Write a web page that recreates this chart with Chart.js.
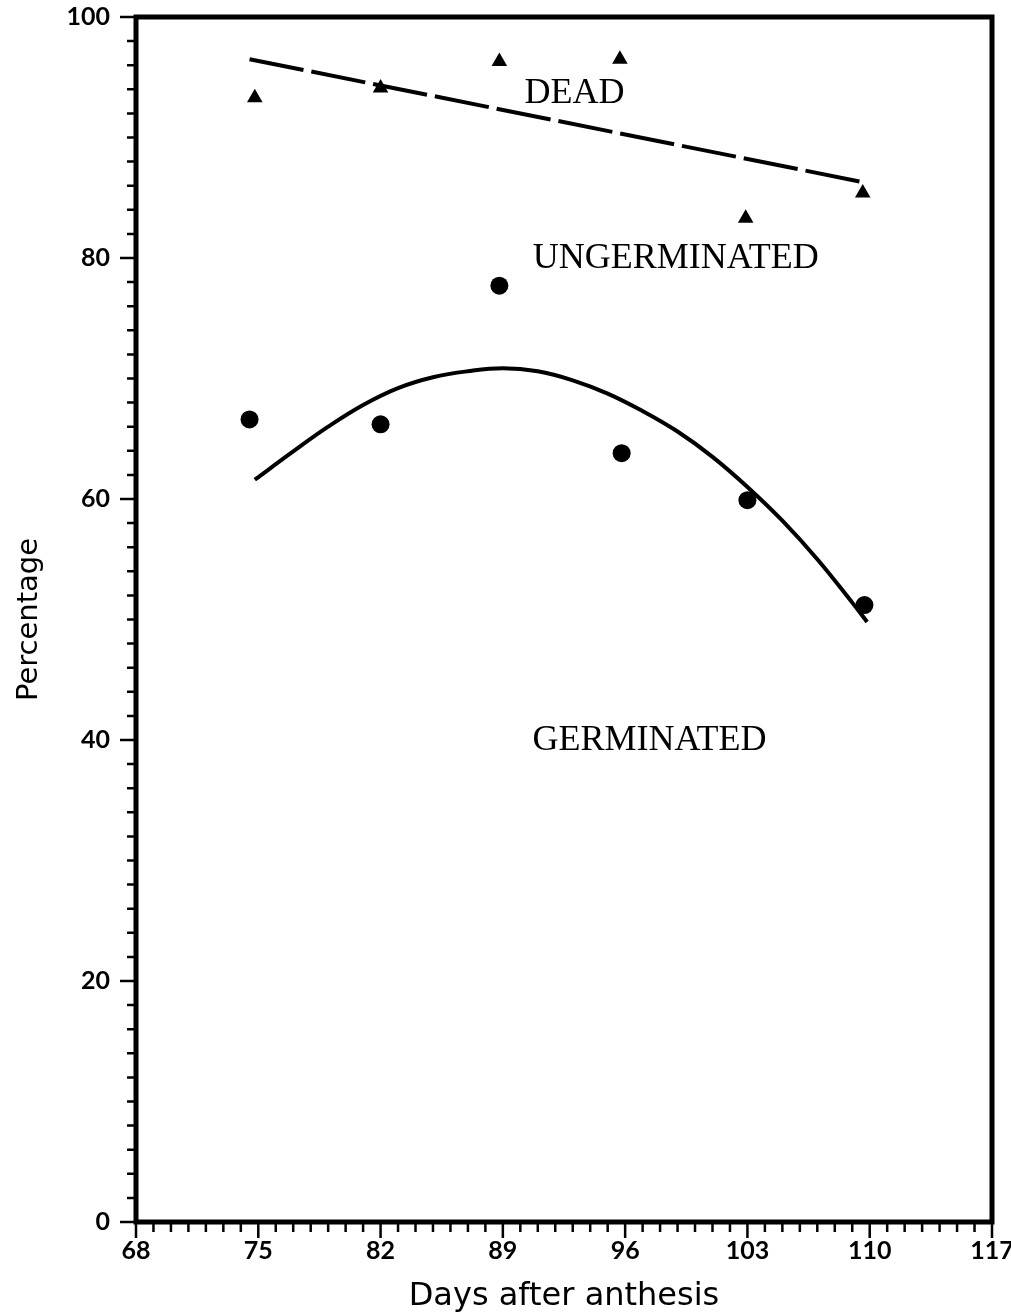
<!DOCTYPE html>
<html>
<head>
<meta charset="utf-8">
<script src="https://cdn.jsdelivr.net/npm/chart.js@4/dist/chart.umd.min.js"></script>
<style>
    html, body { margin: 0; padding: 0; background: #fff; }
</style>
</head>
<body>
<canvas id="chart" width="1011" height="1316"></canvas>
<script>
// germinated seed (%) at each harvest
const germDays = [74.5, 82, 88.8, 95.8, 103, 109.7];
const germinated = [66.6, 66.2, 77.7, 63.8, 59.9, 51.2];

// germinated + ungerminated (%), i.e. everything not dead
const liveDays = [74.8, 82, 88.8, 95.7, 102.9, 109.6];
const liveTotal = [93.3, 94.1, 96.3, 96.5, 83.3, 85.4];

// fitted curve through the germination points
const germFitDays = [74.8, 77, 79, 81, 83, 85, 87, 89, 91, 93, 95, 97, 99, 101, 103, 105, 107, 109, 109.85];
const germFit = [61.6, 63.95, 66.0, 67.8, 69.2, 70.1, 70.6, 70.85, 70.6, 69.85, 68.75,
                 67.3, 65.6, 63.5, 61.0, 58.2, 55.0, 51.4, 49.8];

// straight fit for the dead/ungerminated boundary
const liveFitDays = [74.5, 109.6];
const liveFit = [96.5, 86.3];

const xTicks = [68, 75, 82, 89, 96, 103, 110, 117];
const yTicks = [0, 20, 40, 60, 80, 100];
const regionNames = ['DEAD', 'UNGERMINATED', 'GERMINATED'];

const pts = (xs, ys) => xs.map((v, i) => ({ x: v, y: ys[i] }));

const data = {
    datasets: [
        {
            data: pts(germDays, germinated),
            pointStyle: 'circle',
            pointRadius: 9,
            backgroundColor: '#000',
            borderColor: '#000',
            borderWidth: 0,
            showLine: false
        },
        {
            data: pts(liveDays, liveTotal),
            pointStyle: 'triangle',
            pointRadius: 9,
            backgroundColor: '#000',
            borderColor: '#000',
            borderWidth: 0,
            showLine: false
        },
        {
            data: pts(germFitDays, germFit),
            showLine: true,
            pointRadius: 0,
            borderColor: '#000',
            borderWidth: 4,
            tension: 0.4,
            fill: false
        },
        {
            data: pts(liveFitDays, liveFit),
            showLine: true,
            pointRadius: 0,
            borderColor: '#000',
            borderWidth: 4,
            borderDash: [55, 8],
            fill: false
        }
    ]
};

// box, minor/major tick marks and the region names
const frame = {
    id: 'frame',
    afterDatasetsDraw(chart, args, opts) {
        const { ctx, chartArea: a, scales: { x, y } } = chart;
        ctx.save();
        ctx.strokeStyle = '#000';
        ctx.lineWidth = 5;
        ctx.strokeRect(a.left, a.top, a.right - a.left, a.bottom - a.top);

        ctx.lineWidth = 2.5;
        ctx.beginPath();
        for (let v = 68; v <= 117; v++) {
            const px = x.getPixelForValue(v);
            const len = (v - 68) % 7 === 0 ? 16 : 10;
            ctx.moveTo(px, a.bottom);
            ctx.lineTo(px, a.bottom + len);
        }
        for (let v = 0; v <= 100; v += 2) {
            const py = y.getPixelForValue(v);
            const len = v % 20 === 0 ? 16 : 9;
            ctx.moveTo(a.left, py);
            ctx.lineTo(a.left - len, py);
        }
        ctx.stroke();

        ctx.fillStyle = '#000';
        ctx.font = '36px "Liberation Serif"';
        ctx.textAlign = 'center';
        ctx.textBaseline = 'alphabetic';
        opts.spots.forEach((s, i) => {
            ctx.fillText(regionNames[i], x.getPixelForValue(s[0]), y.getPixelForValue(s[1]));
        });
        ctx.restore();
    }
};

const tickFont = { family: 'Lato', size: 25, weight: 'bold' };

const config = {
    type: 'scatter',
    data: data,
    plugins: [frame],
    options: {
        responsive: false,
        animation: false,
        layout: { padding: { top: 17, right: 19, left: 0, bottom: 0 } },
        plugins: {
            legend: { display: false },
            tooltip: { enabled: false },
            frame: { spots: [[93.1, 92.9], [98.9, 79.2], [97.4, 39.2]] }
        },
        scales: {
            x: {
                type: 'linear',
                min: 68,
                max: 117,
                afterBuildTicks: (s) => { s.ticks = xTicks.map((v) => ({ value: v })); },
                afterFit: (s) => { s.height = 94; s.paddingLeft = 0; s.paddingRight = 0; },
                grid: { display: false, drawTicks: false },
                border: { display: false },
                ticks: {
                    autoSkip: false,
                    maxRotation: 0,
                    padding: 14,
                    color: '#000',
                    font: tickFont,
                    callback: (v) => String(v)
                },
                title: {
                    display: true,
                    text: 'Days after anthesis',
                    color: '#000',
                    font: { family: 'DejaVu Sans', size: 32 },
                    padding: { top: 0, bottom: 0 }
                }
            },
            y: {
                type: 'linear',
                min: 0,
                max: 100,
                afterBuildTicks: (s) => { s.ticks = yTicks.map((v) => ({ value: v })); },
                afterFit: (s) => { s.width = 136; s.paddingTop = 0; s.paddingBottom = 0; },
                grid: { display: false, drawTicks: false },
                border: { display: false },
                ticks: {
                    autoSkip: false,
                    padding: 26,
                    color: '#000',
                    font: tickFont,
                    callback: (v) => String(v)
                },
                title: {
                    display: true,
                    text: 'Percentage',
                    color: '#000',
                    font: { family: 'DejaVu Sans', size: 29 },
                    padding: { top: 12, bottom: 0 }
                }
            }
        }
    }
};

new Chart(document.getElementById('chart'), config);
</script>
</body>
</html>
